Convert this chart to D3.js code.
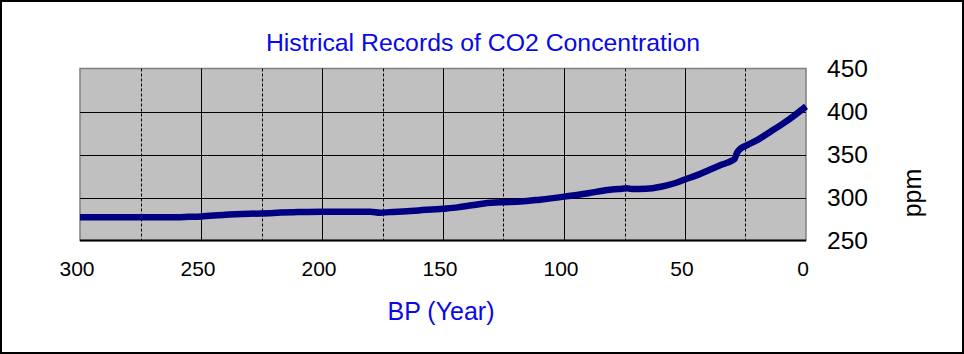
<!DOCTYPE html>
<html>
<head>
<meta charset="utf-8">
<script src="https://cdn.jsdelivr.net/npm/d3@7"></script>
<style>
  body { margin: 0; background: #fff; }
  svg { display: block; font-family: Arial, "Liberation Sans", sans-serif; }
</style>
</head>
<body>
<svg id="chart" width="964" height="354"></svg>
<script>
// years before present and CO2 ppm
const years = [300, 280, 260, 255, 250, 240, 225, 210, 200, 185, 180, 176, 172, 165, 160, 150, 144, 138, 133, 125, 118, 110, 100, 90, 82, 76, 74, 72, 66, 60, 55, 50, 45, 40, 35, 30.5, 29.5, 28.5, 27, 25, 20, 15, 10, 5, 0];
const ppm = [277, 277, 277, 277.5, 278, 280, 281.5, 283, 283.5, 283.5, 283.5, 282.3, 283, 284, 285, 287, 288.5, 291, 293, 294.5, 295.2, 297.5, 301, 305, 308.7, 310.3, 310.8, 310, 310.2, 312.5, 316, 321, 326, 332, 338, 343, 345, 352, 357, 360, 367, 376, 385, 395, 406];
const xTicks = [300, 250, 200, 150, 100, 50, 0];
const xGrid = [275, 250, 225, 200, 175, 150, 125, 100, 75, 50, 25];
const yTicks = [250, 300, 350, 400, 450];
const yGrid = [300, 350, 400];

const svg = d3.select("#chart");
const plot = {left: 80, right: 806, top: 68.5, bottom: 240.5};

const x = d3.scaleLinear().domain([300, 0]).range([plot.left, plot.right]);
const y = d3.scaleLinear().domain([250, 450]).range([plot.bottom, plot.top]);

// outer frame
svg.append("rect")
    .attr("x", 1).attr("y", 1).attr("width", 962).attr("height", 352)
    .attr("fill", "#fff").attr("stroke", "#000").attr("stroke-width", 2)

// plot background
svg.append("rect")
    .attr("x", plot.left).attr("y", plot.top)
    .attr("width", plot.right - plot.left).attr("height", plot.bottom - plot.top)
    .attr("fill", "#c0c0c0")
    .attr("stroke", "#808080").attr("stroke-width", 1.5)

// grid
svg.append("g").selectAll("line")
    .data(xGrid)
    .join("line")
    .attr("x1", d => Math.round(x(d)) + 0.5).attr("x2", d => Math.round(x(d)) + 0.5)
    .attr("y1", plot.top).attr("y2", plot.bottom)
    .attr("stroke", "#000").attr("stroke-width", 1)
    .attr("stroke-dasharray", d => d % 50 === 0 ? null : "3,2")

svg.append("g").selectAll("line")
    .data(yGrid)
    .join("line")
    .attr("x1", plot.left).attr("x2", plot.right)
    .attr("y1", d => Math.round(y(d)) + 0.5).attr("y2", d => Math.round(y(d)) + 0.5)
    .attr("stroke", "#000").attr("stroke-width", 1)

// bottom axis line
svg.append("line")
    .attr("x1", plot.left).attr("x2", plot.right)
    .attr("y1", plot.bottom).attr("y2", plot.bottom)
    .attr("stroke", "#000").attr("stroke-width", 2)

// data line
const data = years.map((yr, i) => ({year: yr, value: ppm[i]}));
const line = d3.line()
    .x(d => x(d.year))
    .y(d => y(d.value))
    .curve(d3.curveMonotoneX);

svg.append("path")
    .datum(data)
    .attr("d", line)
    .attr("fill", "none")
    .attr("stroke", "#000080")
    .attr("stroke-width", 6.5)
    .attr("stroke-linejoin", "round")

// x tick labels
svg.append("g").selectAll("text")
    .data(xTicks)
    .join("text")
    .attr("x", d => x(d) - 3)
    .attr("y", 276)
    .attr("text-anchor", "middle")
    .attr("font-size", 21)
    .attr("fill", "#000")
    .text(d => d)

// y tick labels on the right
svg.append("g").selectAll("text")
    .data(yTicks)
    .join("text")
    .attr("x", 827)
    .attr("y", d => y(d))
    .attr("dy", "0.35em")
    .attr("font-size", 24.5)
    .attr("fill", "#000")
    .text(d => d)

// titles
svg.append("text")
    .attr("x", 483).attr("y", 51)
    .attr("text-anchor", "middle")
    .attr("font-size", 24.8)
    .attr("fill", "#0808e8")
    .text("Histrical Records of CO2 Concentration")

svg.append("text")
    .attr("x", 441).attr("y", 320)
    .attr("text-anchor", "middle")
    .attr("font-size", 25)
    .attr("fill", "#0808e8")
    .text("BP (Year)")

svg.append("text")
    .attr("transform", "translate(921,193) rotate(-90)")
    .attr("text-anchor", "middle")
    .attr("font-size", 25)
    .attr("fill", "#000")
    .text("ppm")
</script>
</body>
</html>
